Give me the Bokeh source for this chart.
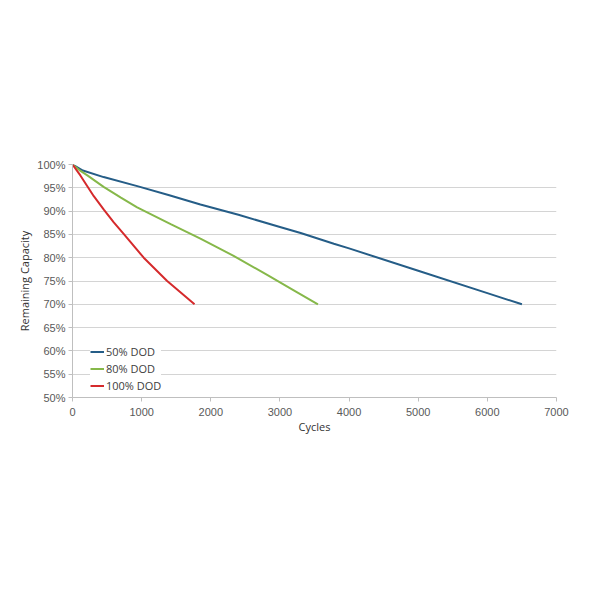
from bokeh.plotting import figure
from bokeh.models import FixedTicker, PrintfTickFormatter, Legend, LegendItem
from bokeh.embed import file_html
from bokeh.resources import INLINE

# Data
cycles_50 = [0, 150, 450, 950, 1400, 1850, 2400, 3000, 3300, 3780, 4000, 5000, 6000, 6500]
cap_50 = [100, 98.7, 97.3, 95.3, 93.4, 91.4, 89.2, 86.6, 85.3, 83.0, 82.0, 77.2, 72.4, 70.0]

cycles_80 = [0, 100, 220, 450, 700, 935, 1420, 1850, 2330, 2815, 3200, 3550]
cap_80 = [100, 98.8, 97.6, 95.2, 92.9, 90.8, 87.2, 84.1, 80.4, 76.3, 73.0, 70.0]

cycles_100 = [0, 116, 212, 308, 453, 597, 740, 1030, 1369, 1765]
cap_100 = [100, 97.6, 95.4, 93.2, 90.3, 87.6, 85.1, 80.0, 75.0, 70.0]

series_names = ["50% DOD", "80% DOD", "100% DOD"]
x_ticks = [0, 1000, 2000, 3000, 4000, 5000, 6000, 7000]
y_ticks = [50, 55, 60, 65, 70, 75, 80, 85, 90, 95, 100]

colors = ["#255d87", "#86b84a", "#d52a2c"]

p = figure(width=584, height=584, x_range=(0, 7000), y_range=(50, 100),
           output_backend="svg", toolbar_location=None,
           min_border_left=72, min_border_right=28,
           min_border_top=164, min_border_bottom=187)
p.outline_line_color = None
p.background_fill_color = "white"
p.border_fill_color = "white"

r1 = p.line(cycles_50, cap_50, line_color=colors[0], line_width=2)
r2 = p.line(cycles_80, cap_80, line_color=colors[1], line_width=2)
r3 = p.line(cycles_100, cap_100, line_color=colors[2], line_width=2)

p.xgrid.grid_line_color = None
p.ygrid.grid_line_color = "#d4d4d4"
p.ygrid.grid_line_width = 1

p.xaxis.ticker = FixedTicker(ticks=x_ticks)
p.yaxis.ticker = FixedTicker(ticks=y_ticks)
p.yaxis.formatter = PrintfTickFormatter(format="%d%%")
p.xaxis.minor_tick_line_color = None
p.yaxis.minor_tick_line_color = None

for ax in (p.xaxis[0], p.yaxis[0]):
    ax.axis_line_color = "#bfbfbf"
    ax.major_tick_line_color = "#bfbfbf"
    ax.major_tick_out = 4
    ax.major_tick_in = 0
    ax.major_label_text_font = "Liberation Sans"
    ax.major_label_text_font_size = "11px"
    ax.major_label_text_color = "#595959"
    ax.axis_label_text_font = "Open Sans"
    ax.axis_label_text_font_size = "11px"
    ax.axis_label_text_font_style = "normal"
    ax.axis_label_text_color = "#333333"

p.xaxis.axis_label = "Cycles"
p.yaxis.axis_label = "Remaining Capacity"
p.xaxis.major_label_standoff = 6
p.yaxis.major_label_standoff = 3
p.xaxis.axis_label_standoff = 0
p.yaxis.axis_label_standoff = 2

legend = Legend(items=[LegendItem(label=series_names[0], renderers=[r1]),
                       LegendItem(label=series_names[1], renderers=[r2]),
                       LegendItem(label=series_names[2], renderers=[r3])],
                location=(18, 3))
legend.border_line_color = None
legend.background_fill_color = "white"
legend.background_fill_alpha = 1
legend.padding = 4
legend.margin = 0
legend.spacing = 0
legend.label_height = 17
legend.glyph_height = 17
legend.glyph_width = 14
legend.label_standoff = 2
legend.label_text_font = "Open Sans"
legend.label_text_font_size = "11px"
legend.label_text_color = "#404040"
p.add_layout(legend)

open("out.html", "w").write(file_html(p, INLINE))
